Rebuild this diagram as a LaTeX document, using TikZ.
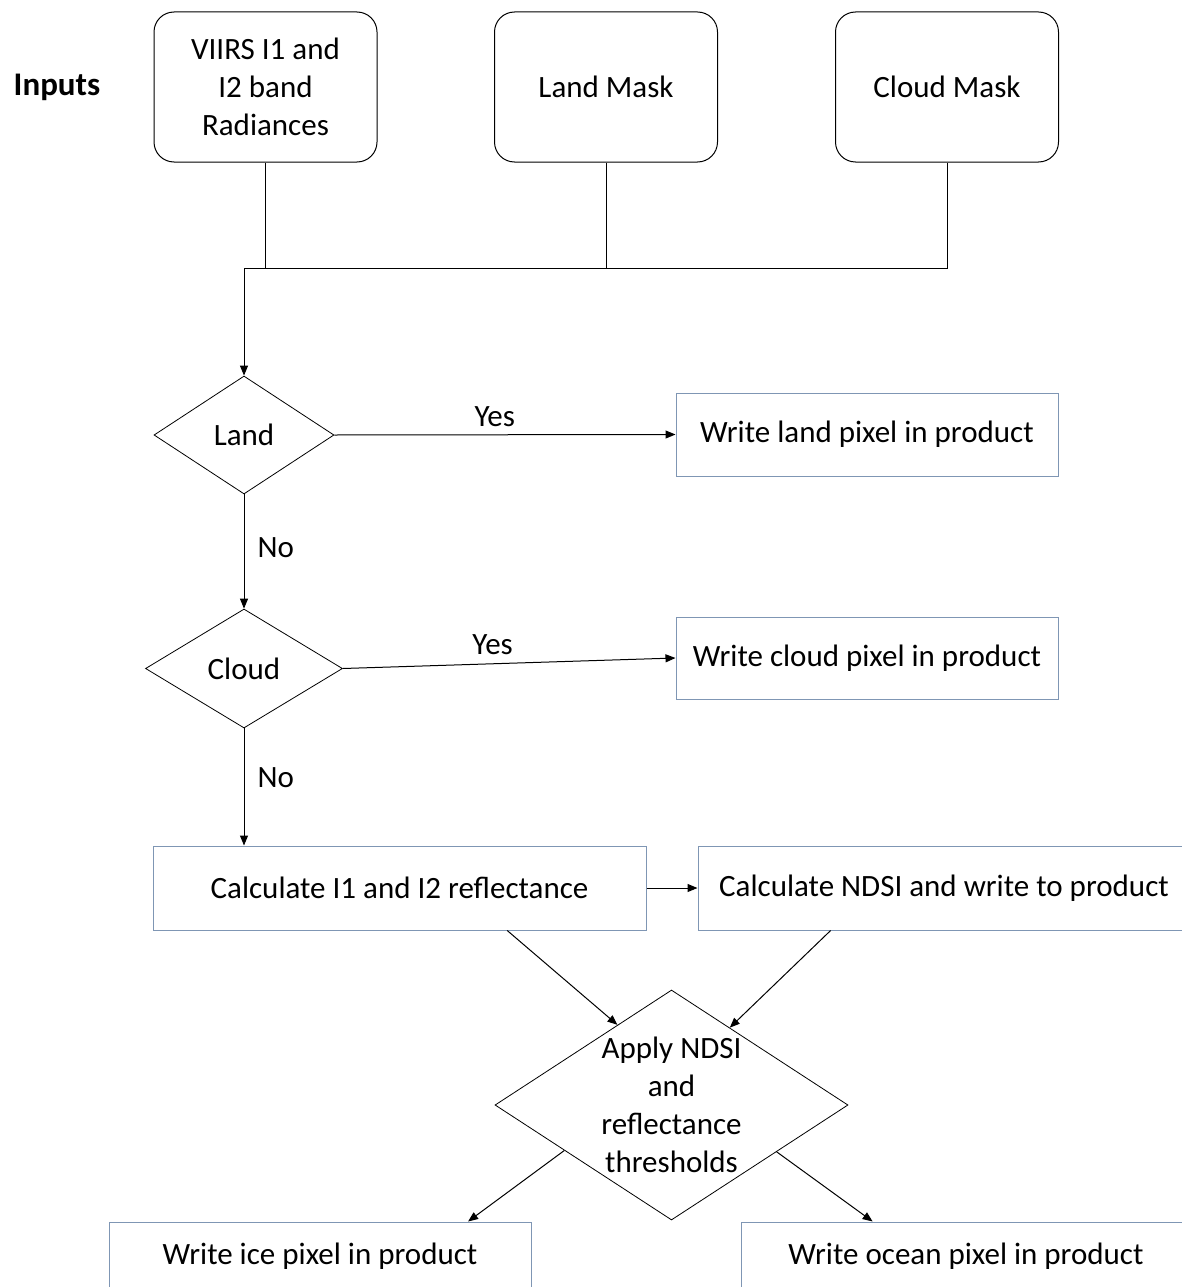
\documentclass[tikz,border=0pt]{standalone}
\usepackage{fontspec}
\setmainfont{Carlito}
\usetikzlibrary{shapes.geometric,arrows.meta,calc}
\definecolor{boxblue}{RGB}{127,150,180}
\begin{document}
\begin{tikzpicture}[x=1pt,y=-1pt,
  font=\fontsize{31}{38}\selectfont,
  inbox/.style={draw, line width=1pt, rounded corners=20pt, minimum width=223pt, minimum height=150pt, align=center, inner sep=0pt},
  procbox/.style={draw=boxblue, line width=1pt, minimum height=83pt, inner sep=0pt},
  decision/.style={draw, line width=0.8pt, diamond, inner sep=0pt},
  conn/.style={line width=1pt, -{Triangle[length=10pt,width=8pt]}},
  plain/.style={line width=1pt},
  lbl/.style={inner sep=0pt}
]
\useasboundingbox (0,0) rectangle (1182,1287);
\clip (0,0) rectangle (1182,1287);

% inputs
\node[lbl, font=\fontsize{33}{38}\selectfont\bfseries] (inputs) at (57,87) {Inputs};
\node[inbox] (viirs) at (265.5,87) {VIIRS I1 and\\I2 band\\Radiances};
\node[inbox] (lmask) at (606,87) {Land Mask};
\node[inbox] (cmask) at (947,87) {Cloud Mask};

\coordinate (jv) at (265.5,268);
\coordinate (jl) at (606,268);
\coordinate (jc) at (947,268);
\coordinate (js) at (244,268);

% decisions
\node[decision, minimum width=180pt, minimum height=118pt] (landd) at (244,435) {Land};
\node[decision, minimum width=197pt, minimum height=119pt] (cloudd) at (244,668.5) {Cloud};
\node[decision, minimum width=353pt, minimum height=230pt,
      label={[align=center, inner sep=0pt]center:Apply NDSI\\and\\reflectance\\thresholds}] (apply) at (671.5,1105) {};

% process boxes
\node[procbox, minimum width=382pt] (landw) at (867,434.5) {Write land pixel in product};
\node[procbox, minimum width=382pt, minimum height=82pt] (cloudw) at (867,658) {Write cloud pixel in product};
\node[procbox, minimum width=493pt, minimum height=84pt] (calc) at (399.5,888) {Calculate I1 and I2 reflectance};
\node[procbox, minimum width=492pt, minimum height=84pt] (ndsi) at (944,888) {Calculate NDSI and write to product};
\node[procbox, minimum width=422pt, minimum height=68pt] (ice) at (320,1256) {Write ice pixel in product};
\node[procbox, minimum width=450pt, minimum height=68pt] (ocean) at (966,1256) {Write ocean pixel in product};

% input connectors
\draw[plain] (viirs.south) -- (jv);
\draw[plain] (lmask.south) -- (jl);
\draw[plain] (cmask.south) -- (jc) -- (js);
\draw[conn] (js) -- (landd.north);

% decision connectors
\draw[conn] (landd.east) -- node[lbl, pos=0.47, above=8pt] (yes1) {Yes} (landw.west);
\draw[conn] (landd.south) -- node[lbl, pos=0.47, right=13pt] (no1) {No} (cloudd.north);
\draw[conn] (cloudd.east) -- node[lbl, pos=0.45, above=9pt] (yes2) {Yes} (cloudw.west);
\draw[conn] (cloudd.south) -- node[lbl, pos=0.42, right=13pt] (no2) {No} (cloudd.south |- calc.north);
\draw[conn] (calc.east) -- (ndsi.west);

% to apply diamond
\coordinate (c1) at ($(calc.south west)!0.718!(calc.south east)$);
\coordinate (c2) at ($(ndsi.south west)!0.27!(ndsi.south east)$);
\draw[conn] (c1) -- (apply.124);
\draw[conn] (c2) -- (apply.53);

% from apply diamond
\coordinate (i1) at ($(ice.north west)!0.85!(ice.north east)$);
\coordinate (o1) at ($(ocean.north west)!0.293!(ocean.north east)$);
\draw[conn] (apply.203) -- (i1);
\draw[conn] (apply.336) -- (o1);
\end{tikzpicture}
\end{document}
